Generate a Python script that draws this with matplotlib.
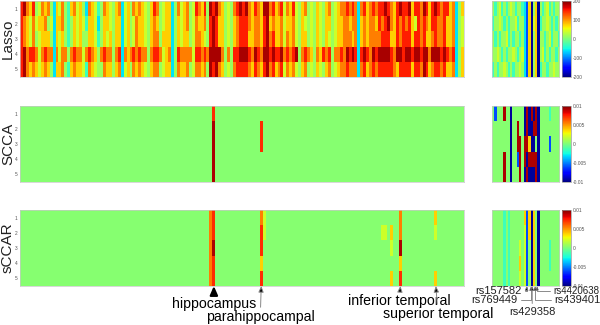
import matplotlib.pyplot as plt
import numpy as np

plt.rcParams['font.family'] = ['Liberation Sans', 'DejaVu Sans']

# one letter per heatmap cell, letters map to weight levels
lasso_levels = {'B': -190, 'b': -120, 'c': -60, 't': -30, 'g': 15,
                'l': 40, 'y': 75, 'o': 110, 'r': 150, 'd': 185}
weight_levels = {'B': -0.0095, 'b': -0.006, 'c': -0.0035, 't': -0.0015, 'g': 0.0003,
                 'l': 0.002, 'y': 0.0038, 'o': 0.0055, 'r': 0.0072, 'd': 0.0092}

n_roi = 150

# Lasso, imaging side (5 rows x 150 ROIs)
lasso_roi = [
    "rdoyrgloyo" "gcylogtyol" "ygcoyltgoy" "lgyoclygoy" "oylgyrogly"
    "ycgolyoglr" "oyrgdrdoyg" "lgordrdoyr" "oyddoryorl" "oyrlgyoglg"
    "ylgyoglyoo" "rorocoryor" "orrdroyrdr" "rdyrrodryr" "drorryocgy",
    "roylolyyog" "lcyyogtgyl" "yltyylcgyy" "lgyyclyglo" "yylgyoygly"
    "ycgylyoglo" "yyogrdryyg" "lgyorrroyo" "oyrdyoyyol" "yyolgylglg"
    "ylgyyglyyo" "oyoocyoyoo" "yrordoyror" "orylroroyr" "rooryyocgl",
    "royloglyyy" "gcylygtgyl" "yggyyltgyl" "ygyyclyglo" "yylgyoogyy"
    "ycgylyyglo" "oylgrdryyg" "lgyorrryyo" "oyrdoryyol" "oyolgyyglg"
    "ylgylglyyo" "ooyocyoyoo" "oorrryyror" "rryrroryyo" "rooryyocgl",
    "rdorroloro" "ocoloogoro" "oloroygoro" "ogorcoyoro" "roogorroly"
    "ocgroooolr" "roroddddog" "ogrrdddrod" "roddrdrrdo" "rordgoroyg"
    "oyrorgooro" "drdrcrdrod" "rddddroddr" "ddrddrddod" "ddrdrorcgy",
    "rdoyoylyoy" "gcyyogtyoy" "yltoylggoy" "ygyoclygoy" "oylgyoogly"
    "ycgoyyoglo" "oyogdrdoyg" "lgorrrroyr" "oyrdoryorl" "oyolgyoglg"
    "ylgyoglyoo" "rooocoryor" "orrrrroyrr" "rryrrodryo" "rroryyocgy",
]

# Lasso, genetic side (5 rows x 30 SNPs)
lasso_snp = [
    "gtgltgtglgtggt" "cbyBgyB" "gtgltgtgg",
    "tgglgtgtggltgg" "cbyBlyB" "tgglgtgtg",
    "gtgtggltgtggtg" "cbyBgyB" "ggtgltggt",
    "gglgtgtgglgtgl" "cbyBgyB" "gltgtggtg",
    "tgtgglgtgtgglg" "cbyBgyB" "tggtgglgg",
]

# SCCA / sCCAR imaging side: nonzero cells per row {ROI index: level}
scca_roi_marks = [
    {65: 'r'},
    {65: 'd', 81: 'r'},
    {65: 'd', 81: 'r'},
    {65: 'd'},
    {65: 'd'},
]
sccar_roi_marks = [
    {64: 'o', 65: 'r', 81: 'o', 82: 'l', 128: 'o', 140: 'y'},
    {64: 'o', 65: 'r', 81: 'r', 82: 'l', 122: 'l', 123: 'l', 125: 'y', 128: 'o', 140: 'l'},
    {64: 'o', 65: 'd', 81: 'r', 125: 'l', 128: 'd'},
    {64: 'o', 65: 'r', 81: 'y', 128: 'y'},
    {64: 'o', 65: 'r', 81: 'r', 125: 'y', 128: 'r', 140: 'y'},
]

scca_snp = [
    "gbgggdggBg" "ggggBdBdBd" "Bggggtgggg",
    "ggggggggBg" "gdggBdBBdd" "Bggggggggg",
    "ggggggggBg" "gddgddyBBg" "Bggggbgggg",
    "gggggdggBg" "gbdgdBdddd" "Bggggggggg",
    "gggggdggBg" "ggdgBdBBBd" "Bggggggggg",
]
sccar_snp = [
    "gggggtgtgg" "ggggybyByg" "Bggggggggg",
    "gggggtgtgg" "gggglbyByg" "Bggggggggg",
    "gggggtgtgg" "gglglbgByg" "Bggggtgggg",
    "gggggtgtgg" "ggyglbgByg" "Bggggtgggg",
    "gggggtgtgg" "gglglbgByg" "Bggggggggg",
]

methods = ['Lasso', 'SCCA', 'sCCAR']
lasso_ticks = [200, 100, 0, -100, -200]
lasso_ticklabels = ['200', '100', '0', '-100', '-200']
weight_ticks = [0.01, 0.005, 0, -0.005, -0.01]
weight_ticklabels = ['0.01', '0.005', '0', '-0.005', '-0.01']

roi_names = ['hippocampus', 'parahippocampal', 'inferior temporal', 'superior temporal']
roi_index = [65, 81, 128, 140]
snp_names = ['rs157582', 'rs769449', 'rs429358', 'rs439401', 'rs4420638']
snp_pos = [15.0, 17.0, 17.5, 18.8, 19.7]


def decode(rows, levels):
    return np.array([[levels[ch] for ch in row] for row in rows])


def from_marks(marks, levels, n):
    mat = np.full((len(marks), n), levels['g'])
    for i, row in enumerate(marks):
        for j, ch in row.items():
            mat[i, j] = levels[ch]
    return mat


panels = [
    (decode(lasso_roi, lasso_levels), decode(lasso_snp, lasso_levels), 200, lasso_ticks, lasso_ticklabels),
    (from_marks(scca_roi_marks, weight_levels, n_roi), decode(scca_snp, weight_levels), 0.01, weight_ticks, weight_ticklabels),
    (from_marks(sccar_roi_marks, weight_levels, n_roi), decode(sccar_snp, weight_levels), 0.01, weight_ticks, weight_ticklabels),
]

W, H = 600, 325
fig = plt.figure(figsize=(6, 3.25), dpi=100)
rows_px = [(1, 77), (106, 182), (210, 286)]

axes_l, axes_r = [], []
for (top, bot), name, (roi, snp, vmax, ticks, ticklabels) in zip(rows_px, methods, panels):
    y0, h = 1 - bot / H, (bot - top) / H
    ax_l = fig.add_axes([20 / W, y0, 444 / W, h])
    ax_r = fig.add_axes([492 / W, y0, 67 / W, h])
    cax = fig.add_axes([562 / W, y0, 9 / W, h])

    ax_l.imshow(roi, cmap='jet', vmin=-vmax, vmax=vmax, aspect='auto', interpolation='nearest')
    im = ax_r.imshow(snp, cmap='jet', vmin=-vmax, vmax=vmax, aspect='auto', interpolation='nearest')

    ax_l.set_xticks([])
    ax_l.set_yticks(range(5))
    ax_l.set_yticklabels(['1', '2', '3', '4', '5'])
    ax_l.tick_params(axis='y', length=0, pad=2, labelsize=3.5, labelcolor='#555555')
    ax_r.set_xticks([])
    ax_r.set_yticks([])
    for a in (ax_l, ax_r):
        for s in a.spines.values():
            s.set_color('#c8c8c8')
            s.set_linewidth(0.5)

    cb = fig.colorbar(im, cax=cax, ticks=ticks)
    cb.set_ticklabels(ticklabels)
    cb.ax.tick_params(labelsize=3.5, length=0, pad=1.5, labelcolor='#555555')
    cb.outline.set_edgecolor('#999999')
    cb.outline.set_linewidth(0.5)

    fig.text(8 / W, 1 - (top + bot) / 2 / H, name, rotation=90, ha='center', va='center',
             fontsize=11, color='#222222')
    axes_l.append(ax_l)
    axes_r.append(ax_r)

# ROI labels under sCCAR imaging heatmap
ax = axes_l[2]
roi_offsets = [(0, -18), (-1, -31), (-1, -15), (2, -28)]
for k, (name, idx, off) in enumerate(zip(roi_names, roi_index, roi_offsets)):
    if k == 0:
        arrow = dict(arrowstyle='-|>,head_length=0.5,head_width=0.22', color='black', lw=1.6,
                     shrinkA=0, shrinkB=0)
    else:
        arrow = dict(arrowstyle='-|>,head_length=0.35,head_width=0.15', ec='#888888', fc='black',
                     lw=0.7, shrinkA=0, shrinkB=0)
    ax.annotate(name, xy=(idx, 4.5), xytext=off, textcoords='offset pixels',
                ha='center', va='center', fontsize=10.2, color='black',
                arrowprops=arrow, annotation_clip=False)

# SNP labels under sCCAR genetic heatmap
ax = axes_r[2]
snp_offsets = [(-5, -5), (-14, -14), (0, -26), (19, -14), (16, -5)]
snp_align = ['right', 'right', 'center', 'left', 'left']
snp_size = [8, 8, 8, 8, 7]
for name, x, off, ha, fs in zip(snp_names, snp_pos, snp_offsets, snp_align, snp_size):
    if ha == 'center':
        conn, rel = 'arc3', (0.5, 1.0)
    else:
        conn, rel = 'angle,angleA=0,angleB=90,rad=0', ((1.0, 0.5) if ha == 'right' else (0.0, 0.5))
    ax.annotate(name, xy=(x, 4.5), xytext=off, textcoords='offset pixels',
                ha=ha, va='center', fontsize=fs, color='#222222',
                arrowprops=dict(arrowstyle='-|>,head_length=0.3,head_width=0.12', ec='#777777',
                                fc='black', lw=0.6, shrinkA=0.5, shrinkB=0,
                                connectionstyle=conn, relpos=rel),
                annotation_clip=False)

fig.savefig('out.png', dpi=100)
